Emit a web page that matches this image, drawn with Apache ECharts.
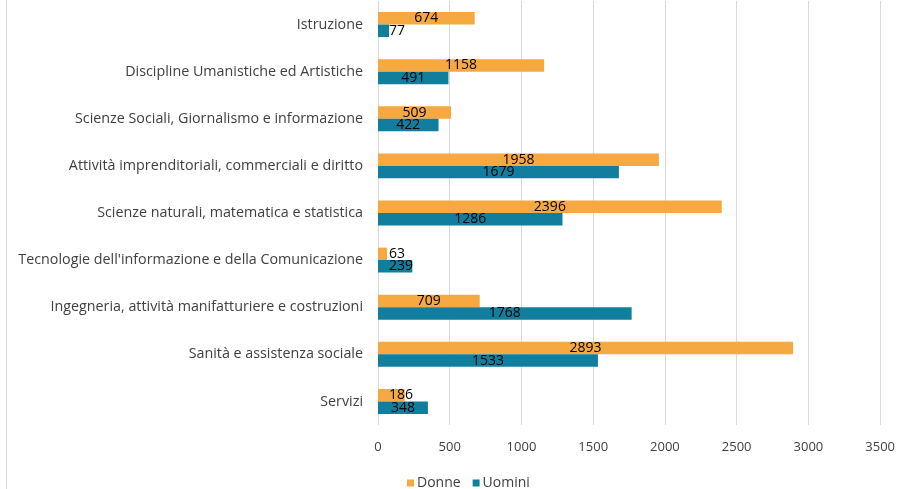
<!DOCTYPE html>
<html>
<head>
<meta charset="utf-8">
<script src="https://cdn.jsdelivr.net/npm/echarts@6/dist/echarts.min.js"></script>
<style>
html,body{margin:0;padding:0;background:#fff;}
#c{width:898px;height:489px;}
</style>
</head>
<body>
<div id="c"></div>
<script>
const categories = [
  "Istruzione",
  "Discipline Umanistiche ed Artistiche",
  "Scienze Sociali, Giornalismo e informazione",
  "Attività imprenditoriali, commerciali e diritto",
  "Scienze naturali, matematica e statistica",
  "Tecnologie dell'informazione e della Comunicazione",
  "Ingegneria, attività manifatturiere e costruzioni",
  "Sanità e assistenza sociale",
  "Servizi"
];
const donne  = [674, 1158, 509, 1958, 2396, 63, 709, 2893, 186];
const uomini = [77, 491, 422, 1679, 1286, 239, 1768, 1533, 348];
const seriesNames = ["Donne", "Uomini"];
const xTicks = [0, 500, 1000, 1500, 2000, 2500, 3000, 3500];

const FONT = "Open Sans";
function toData(arr){
  return arr.map(v => {
    if (v < 300) {
      return {value: v, label: {position: 'insideLeft', distance: 11}};
    }
    return v;
  });
}
const labelStyle = {
  show: true, position: 'inside', color: '#000', fontSize: 14, fontFamily: FONT
};
const chart = echarts.init(document.getElementById('c'), null, {renderer: 'canvas'});
chart.setOption({
  animation: false,
  backgroundColor: '#fff',
  graphic: [{
    type: 'line', shape: {x1: 6.5, y1: 0, x2: 6.5, y2: 489},
    style: {stroke: '#d9d9d9', lineWidth: 1}
  }],
  grid: {left: 378, right: 16, top: 1, bottom: 64, containLabel: false},
  legend: {
    data: seriesNames, left: 402, top: 471, itemWidth: 7, itemHeight: 7, itemGap: 12,
    icon: 'rect',
    textStyle: {fontFamily: FONT, fontSize: 14, color: '#404040', padding: [0,0,0,-2]}
  },
  xAxis: {
    type: 'value', min: xTicks[0], max: xTicks[xTicks.length-1], interval: 500,
    axisLine: {show: false}, axisTick: {show: false},
    axisLabel: {fontFamily: FONT, fontSize: 13, color: '#404040', margin: 16,
      formatter: v => String(v)},
    splitLine: {lineStyle: {color: '#d9d9d9', width: 1}}
  },
  yAxis: {
    type: 'category', data: categories, inverse: true,
    axisLine: {show: false}, axisTick: {show: false},
    axisLabel: {fontFamily: FONT, fontSize: 14.3, color: '#404040', margin: 15}
  },
  series: [
    {name: seriesNames[0], type: 'bar', data: toData(donne), barGap: '0%', barCategoryGap: '47%',
     itemStyle: {color: '#F5A940'}, label: labelStyle},
    {name: seriesNames[1], type: 'bar', data: toData(uomini), barGap: '0%', barCategoryGap: '47%',
     itemStyle: {color: '#107E9C'}, label: labelStyle}
  ]
});
</script>
</body>
</html>
